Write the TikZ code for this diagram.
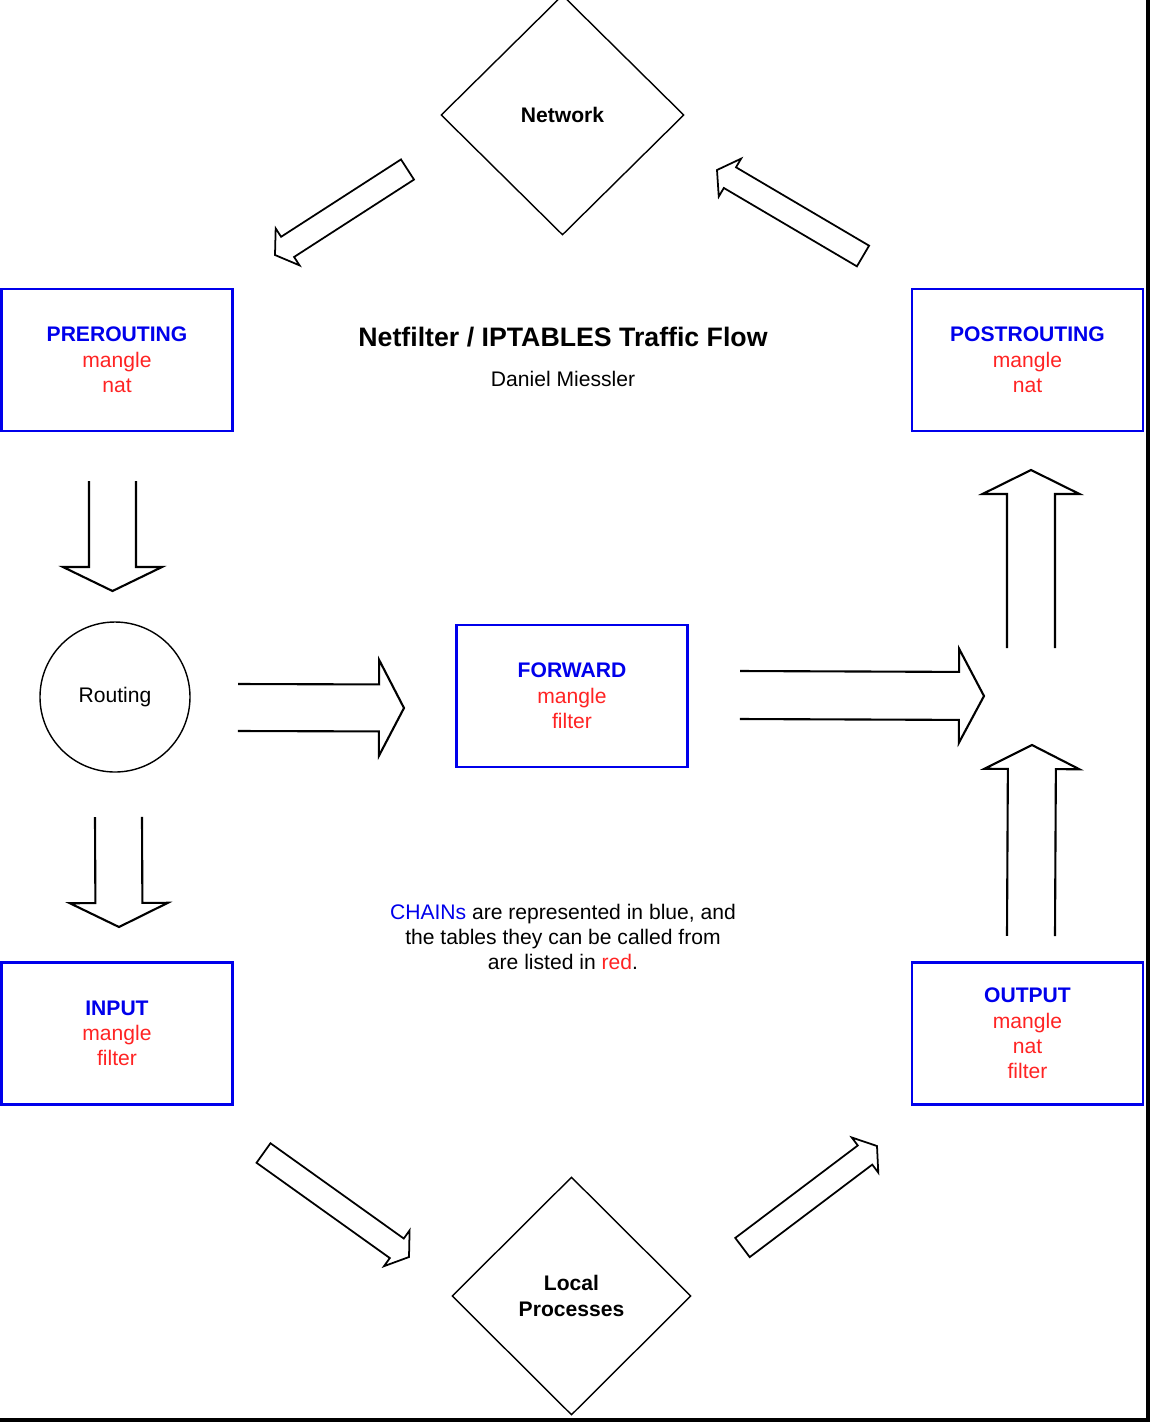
\documentclass[tikz,border=0pt]{standalone}
\usepackage{fontspec}
\setmainfont{Liberation Sans}
\usepackage{tikz}
\usetikzlibrary{shapes.geometric,calc}

\definecolor{chainblue}{RGB}{0,0,235}
\definecolor{tablered}{RGB}{255,35,35}

\tikzstyle{chainbox} = [draw=chainblue, line width=0.6pt, minimum width=2.31cm, minimum height=1.42cm,
	inner sep=0pt, align=center, font=\fontsize{6}{7.2}\selectfont]
\tikzstyle{hostbox} = [diamond, draw, line width=0.4pt, inner sep=0pt, align=center,
	font=\fontsize{6}{7.2}\selectfont\bfseries]
\tikzstyle{fatline} = [line width=0.6pt, line join=miter]

\newcommand{\chn}[1]{\textcolor{chainblue}{\bfseries #1}}
\newcommand{\tbl}[1]{\textcolor{tablered}{#1}}

% hollow arrow from #2 to #3, shaft half width #4, head half width #5, head length #6, #7 closes it
\newcommand{\fatarrow}[7][]{
	\coordinate (hb) at ($(#3)!#6!(#2)$);
	\draw [fatline,#1] ($(#2)!#4!90:(#3)$) -- ($(hb)!#4!-90:(#2)$) -- ($(hb)!#5!-90:(#2)$) -- (#3)
		-- ($(hb)!#5!90:(#2)$) -- ($(hb)!#4!90:(#2)$) -- ($(#2)!#4!-90:(#3)$) #7;
}

\begin{document}
\begin{tikzpicture}[y=-1cm, font=\fontsize{6}{7.2}\selectfont]
			\useasboundingbox (0,0) rectangle (11.5,14.22);
			\fill (11.46,0) rectangle (11.5,14.22);
			\fill (0,14.18) rectangle (11.5,14.22);
			
			% chains
			\node [chainbox] (pre)  at (1.17,3.60)   {\chn{PREROUTING}\\\tbl{mangle}\\\tbl{nat}};
			\node [chainbox] (post) at (10.275,3.60) {\chn{POSTROUTING}\\\tbl{mangle}\\\tbl{nat}};
			\node [chainbox] (fwd)  at (5.72,6.96)   {\chn{FORWARD}\\\tbl{mangle}\\\tbl{filter}};
			\node [chainbox] (in)   at (1.17,10.335) {\chn{INPUT}\\\tbl{mangle}\\\tbl{filter}};
			\node [chainbox] (out)  at (10.275,10.335) {\chn{OUTPUT}\\\tbl{mangle}\\\tbl{nat}\\\tbl{filter}};
			
			\node [circle, draw, line width=0.4pt, minimum size=1.5cm, inner sep=0pt] (route) at (1.15,6.97) {Routing};
			\node [hostbox, minimum width=2.43cm, minimum height=2.4cm] (net) at (5.625,1.15) {Network};
			\node [hostbox, minimum width=2.39cm, minimum height=2.38cm] (local) at (5.715,12.96) {Local\\Processes};
			
			\node (title)  at (5.63,3.37) {\fontsize{7.6}{9}\selectfont\bfseries Netfilter / IPTABLES Traffic Flow};
			\node (author) at (5.63,3.79) {Daniel Miessler};
			\node [align=center] (note) at (5.63,9.37) {\textcolor{chainblue}{CHAINs} are represented in blue, and\\
				the tables they can be called from\\are listed in \textcolor{tablered}{red}.};
			
			% straight arrows
			\coordinate (preA)   at (1.125,4.81);  \coordinate (preB)   at (1.125,5.91);
			\coordinate (routeA) at (1.185,8.17);  \coordinate (routeB) at (1.19,9.27);
			\coordinate (fwdA)   at (2.38,7.075);  \coordinate (fwdB)   at (4.04,7.08);
			\coordinate (fwdC)   at (7.40,6.95);   \coordinate (fwdD)   at (9.84,6.96);
			\coordinate (postA)  at (10.31,6.48);  \coordinate (postB)  at (10.31,4.70);
			\coordinate (outA)   at (10.31,9.36);  \coordinate (outB)   at (10.32,7.45);
			\fatarrow{preA}{preB}{0.235cm}{0.495cm}{0.24cm}{}
			\fatarrow{routeA}{routeB}{0.235cm}{0.49cm}{0.24cm}{}
			\fatarrow{fwdA}{fwdB}{0.235cm}{0.48cm}{0.25cm}{}
			\fatarrow{fwdC}{fwdD}{0.24cm}{0.47cm}{0.25cm}{}
			\fatarrow{postA}{postB}{0.24cm}{0.485cm}{0.24cm}{}
			\fatarrow{outA}{outB}{0.24cm}{0.475cm}{0.24cm}{}
			
			% slanted arrows
			\coordinate (netA)   at (4.075,1.695); \coordinate (netB)   at (2.75,2.55);
			\coordinate (net2A)  at (8.63,2.56);   \coordinate (net2B)  at (7.17,1.70);
			\coordinate (inA)    at (2.635,11.53); \coordinate (inB)    at (4.09,12.57);
			\coordinate (localA) at (7.425,12.475);\coordinate (localB) at (8.77,11.46);
			\foreach \a/\b in {netA/netB, net2A/net2B, inA/inB, localA/localB}{
				\fatarrow[line width=0.5pt]{\a}{\b}{0.12cm}{0.22cm}{0.15cm}{-- cycle}
			}
			
\end{tikzpicture}
\end{document}
